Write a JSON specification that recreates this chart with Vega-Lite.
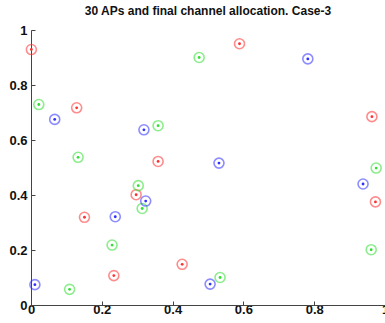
{
  "$schema": "https://vega.github.io/schema/vega-lite/v6.json",
  "width": 354,
  "height": 275,
  "autosize": {"type": "none"},
  "padding": {"left": 31, "top": 30, "right": 0, "bottom": 18},
  "background": "white",
  "title": {"text": "30 APs and final channel allocation. Case-3", "font": "Liberation Sans", "fontSize": 12, "fontWeight": "bold", "color": "#111", "offset": 6, "anchor": "middle"},
  "config": {"view": {"stroke": null}},
  "data": {"values": [
    {"x": 0.001, "y": 0.929, "ch": "red"},
    {"x": 0.129, "y": 0.717, "ch": "red"},
    {"x": 0.359, "y": 0.522, "ch": "red"},
    {"x": 0.589, "y": 0.950, "ch": "red"},
    {"x": 0.963, "y": 0.685, "ch": "red"},
    {"x": 0.297, "y": 0.401, "ch": "red"},
    {"x": 0.151, "y": 0.319, "ch": "red"},
    {"x": 0.234, "y": 0.107, "ch": "red"},
    {"x": 0.427, "y": 0.148, "ch": "red"},
    {"x": 0.973, "y": 0.375, "ch": "red"},
    {"x": 0.022, "y": 0.729, "ch": "green"},
    {"x": 0.133, "y": 0.537, "ch": "green"},
    {"x": 0.359, "y": 0.652, "ch": "green"},
    {"x": 0.475, "y": 0.900, "ch": "green"},
    {"x": 0.975, "y": 0.498, "ch": "green"},
    {"x": 0.303, "y": 0.434, "ch": "green"},
    {"x": 0.314, "y": 0.351, "ch": "green"},
    {"x": 0.229, "y": 0.218, "ch": "green"},
    {"x": 0.109, "y": 0.057, "ch": "green"},
    {"x": 0.961, "y": 0.201, "ch": "green"},
    {"x": 0.534, "y": 0.100, "ch": "green"},
    {"x": 0.067, "y": 0.675, "ch": "blue"},
    {"x": 0.319, "y": 0.637, "ch": "blue"},
    {"x": 0.782, "y": 0.895, "ch": "blue"},
    {"x": 0.531, "y": 0.516, "ch": "blue"},
    {"x": 0.324, "y": 0.378, "ch": "blue"},
    {"x": 0.238, "y": 0.321, "ch": "blue"},
    {"x": 0.011, "y": 0.074, "ch": "blue"},
    {"x": 0.938, "y": 0.440, "ch": "blue"},
    {"x": 0.506, "y": 0.076, "ch": "blue"}
  ]},
  "encoding": {
    "x": {"field": "x", "type": "quantitative", "scale": {"domain": [0, 1], "nice": false, "zero": false},
      "axis": {"title": null, "values": [0, 0.2, 0.4, 0.6, 0.8, 1], "format": "~g", "labelFont": "Liberation Sans", "labelFontSize": 13, "labelFontWeight": "bold", "labelColor": "#111", "labelPadding": 2, "domainColor": "#444", "tickColor": "#444", "tickSize": -4, "grid": false, "labelFlush": false, "labelOverlap": false}},
    "y": {"field": "y", "type": "quantitative", "scale": {"domain": [0, 1], "nice": false, "zero": false},
      "axis": {"title": null, "values": [0, 0.2, 0.4, 0.6, 0.8, 1], "format": "~g", "labelFont": "Liberation Sans", "labelFontSize": 13, "labelFontWeight": "bold", "labelColor": "#111", "labelPadding": 8, "domainColor": "#444", "tickColor": "#444", "tickSize": -4, "grid": false, "labelFlush": false, "labelOverlap": false}}
  },
  "layer": [
    {"mark": {"type": "point", "shape": "circle", "size": 100, "strokeWidth": 1.6, "filled": false, "opacity": 0.55},
     "encoding": {"color": {"field": "ch", "type": "nominal", "scale": {"domain": ["red", "green", "blue"], "range": ["#ff3030", "#30e030", "#3030ff"]}, "legend": null}}},
    {"mark": {"type": "point", "shape": "circle", "size": 8, "filled": true, "opacity": 1},
     "encoding": {"color": {"field": "ch", "type": "nominal", "scale": {"domain": ["red", "green", "blue"], "range": ["#ff3030", "#30e030", "#3030ff"]}, "legend": null}}}
  ]
}
